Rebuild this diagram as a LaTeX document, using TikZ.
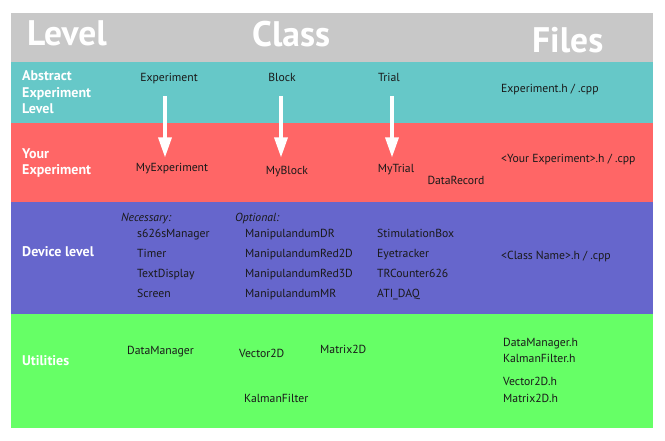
\documentclass[tikz,border=0pt]{standalone}
\usepackage{fontspec}
\setmainfont{PT Sans}
\usetikzlibrary{arrows.meta}

\begin{document}
\begin{tikzpicture}[
  x=1pt, y=-1pt,
  head/.style={anchor=base west, inner sep=0pt, white, font=\fontsize{35.5}{38}\selectfont\bfseries},
  lvl/.style={anchor=base west, inner sep=0pt, white, align=left,
              font=\fontsize{14}{16.8}\selectfont\bfseries},
  cls/.style={anchor=base, inner sep=0pt, text height=8.5pt, text depth=2.7pt,
              text=black!90, font=\fontsize{11.7}{13}\selectfont},
  lcls/.style={cls, anchor=base west},
  down/.style={-{Triangle[length=21pt,width=12.5pt]}, line width=4.7pt, white,
               shorten <=11pt},
]
\definecolor{hdgray}{HTML}{C8C8C8}
\definecolor{absteal}{HTML}{66C8C8}
\definecolor{yourred}{HTML}{FF6666}
\definecolor{devblue}{HTML}{6666CC}
\definecolor{utilgreen}{HTML}{66FF66}

\useasboundingbox (0,0) rectangle (665,441);

% ---- bands ----
\fill[hdgray]    (11,13)  rectangle (653,62);
\fill[absteal]   (11,62)  rectangle (653,123);
\fill[yourred]   (11,123) rectangle (653,202);
\fill[devblue]   (11,202) rectangle (653,314);
\fill[utilgreen] (11,314) rectangle (653,428);

% ---- header ----
\node[head] (hlevel) at (27,46) {Level};
\node[head] (hclass) at (252,47) {Class};
\node[head] (hfiles) at (532,53) {Files};

% ---- level names ----
\node[lvl] (labs) at (22,114) {Abstract\\Experiment\\Level};
\node[lvl] (lyour) at (22,175) {Your\\Experiment};
\node[lvl] (ldev) at (22,257) {Device level};
\node[lvl] (lutil) at (22,366) {Utilities};

% ---- abstract / your experiment ----
\node[cls] (exp) at (169,82) {Experiment};
\node[cls] (blk) at (282,82) {Block};
\node[cls] (trl) at (389,82) {Trial};
\node[lcls] (fabs) at (501,93) {Experiment.h / .cpp};

\node[cls] (myexp) at (172,172) {MyExperiment};
\node[cls] (myblk) at (287,175) {MyBlock};
\node[cls] (mytrl) at (396,173) {MyTrial};
\node[cls] (drec) at (456,185) {DataRecord};
\node[lcls] (fyour) at (501,163) {<Your Experiment>.h / .cpp};

\draw[down, shorten >=5pt] ([xshift=-4]exp.south) -- ([xshift=-4]exp.south |- myexp.north);
\draw[down, shorten >=8pt] ([xshift=-1]blk.south) -- ([xshift=-1]blk.south |- myblk.north);
\draw[down, shorten >=6pt] ([xshift=3]trl.south) -- ([xshift=3]trl.south |- mytrl.north);

% ---- device level ----
\node[lcls, font=\fontsize{11.7}{13}\selectfont\itshape] (nec) at (121,222) {Necessary:};
\node[lcls, font=\fontsize{11.7}{13}\selectfont\itshape] (opt) at (235,222) {Optional:};
\foreach \nm/\txt [count=\i from 0] in {n1/s626sManager, n2/Timer, n3/TextDisplay, n4/Screen}
  \node[lcls] (\nm) at (137,238+20*\i) {\txt};
\foreach \nm/\txt [count=\i from 0] in {o1/ManipulandumDR, o2/ManipulandumRed2D, o3/ManipulandumRed3D, o4/ManipulandumMR}
  \node[lcls] (\nm) at (245,238+20*\i) {\txt};
\foreach \nm/\txt [count=\i from 0] in {s1/StimulationBox, s2/Eyetracker, s3/TRCounter626, s4/ATI\_DAQ}
  \node[lcls] (\nm) at (377,238+20*\i) {\txt};
\node[lcls] (fdev) at (501,260) {<Class Name>.h / .cpp};

% ---- utilities ----
\node[lcls] (dman) at (127,354) {DataManager};
\node[lcls] (vec) at (239,357) {Vector2D};
\node[lcls] (mat) at (320,353) {Matrix2D};
\node[lcls] (kal) at (244,402) {KalmanFilter};
\node[lcls] (fdman) at (503,346) {DataManager.h};
\node[lcls] (fkal) at (503,362) {KalmanFilter.h};
\node[lcls] (fvec) at (503,385) {Vector2D.h};
\node[lcls] (fmat) at (503,402) {Matrix2D.h};
\end{tikzpicture}
\end{document}
